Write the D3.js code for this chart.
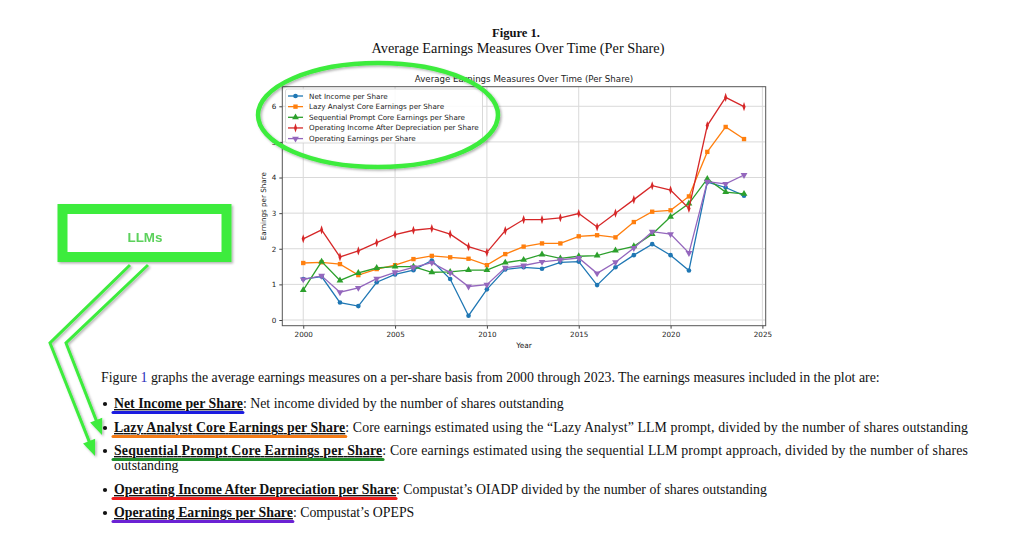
<!DOCTYPE html>
<html>
<head>
<meta charset="utf-8">
<script src="https://cdn.jsdelivr.net/npm/d3@7"></script>
<style>
  body { margin: 0; background: #fff; }
</style>
</head>
<body>
<svg id="page"></svg>
<script>
// chart data
const years = [2000, 2001, 2002, 2003, 2004, 2005, 2006, 2007, 2008, 2009, 2010, 2011, 2012,
               2013, 2014, 2015, 2016, 2017, 2018, 2019, 2020, 2021, 2022, 2023, 2024];
const netIncome = [1.15, 1.22, 0.49, 0.39, 1.06, 1.28, 1.40, 1.67, 1.15, 0.12, 0.86, 1.42, 1.48,
                   1.44, 1.62, 1.64, 0.98, 1.48, 1.82, 2.13, 1.82, 1.39, 3.87, 3.72, 3.49];
const lazyAnalyst = [1.60, 1.62, 1.57, 1.26, 1.43, 1.54, 1.71, 1.80, 1.76, 1.72, 1.54, 1.85, 2.06,
                     2.15, 2.15, 2.35, 2.38, 2.32, 2.75, 3.04, 3.08, 3.47, 4.72, 5.42, 5.08];
const sequential = [0.84, 1.64, 1.11, 1.32, 1.46, 1.50, 1.50, 1.34, 1.35, 1.40, 1.40, 1.61, 1.69,
                    1.84, 1.73, 1.79, 1.81, 1.95, 2.07, 2.41, 2.90, 3.27, 3.96, 3.59, 3.54];
const opIncome = [2.28, 2.53, 1.77, 1.94, 2.17, 2.40, 2.52, 2.57, 2.41, 2.06, 1.90, 2.51, 2.82,
                  2.82, 2.87, 2.99, 2.61, 3.00, 3.38, 3.77, 3.65, 3.13, 5.46, 6.25, 5.99];
const opEarnings = [1.14, 1.24, 0.78, 0.90, 1.16, 1.34, 1.48, 1.61, 1.33, 0.94, 0.99, 1.47, 1.53,
                    1.63, 1.69, 1.74, 1.31, 1.62, 2.02, 2.48, 2.41, 1.88, 3.88, 3.82, 4.07];
const seriesNames = ["Net Income per Share", "Lazy Analyst Core Earnings per Share",
                     "Sequential Prompt Core Earnings per Share",
                     "Operating Income After Depreciation per Share", "Operating Earnings per Share"];
const xTicks = [2000, 2005, 2010, 2015, 2020, 2025];
const yTicks = [0, 1, 2, 3, 4, 5, 6];

// document text
const figureLabel = "Figure 1.";
const figureTitle = "Average Earnings Measures Over Time (Per Share)";
const termNames = seriesNames;
const termDescriptions = [
  ": Net income divided by the number of shares outstanding",
  ": Core earnings estimated using the \u201cLazy Analyst\u201d LLM prompt, divided by the number of shares outstanding",
  ": Core earnings estimated using the sequential LLM prompt approach, divided by the number of shares",
  ": Compustat\u2019s OIADP divided by the number of shares outstanding",
  ": Compustat\u2019s OPEPS"
];
const termContinued = ["", "", "outstanding", "", ""];

const W = 1024, H = 537;
const svg = d3.select("#page").attr("width", W).attr("height", H);
const green = "#3dec3d";

const defs = svg.append("defs");
defs.append("filter").attr("id", "shadow")
  .attr("x", "-20%").attr("y", "-20%").attr("width", "140%").attr("height", "140%")
  .append("feDropShadow")
  .attr("dx", 1.5).attr("dy", 1.5).attr("stdDeviation", 1)
  .attr("flood-color", "#000").attr("flood-opacity", 0.3);

// scale a text's font-size so it spans the given width
function fitWidth(sel, target) {
  const w = sel.node().getComputedTextLength();
  const fs = parseFloat(sel.attr("font-size"));
  sel.attr("font-size", fs * target / w);
  return fs * target / w;
}

// ---------- heading ----------
const serif = "'Liberation Serif', 'Times New Roman', serif";
const head = svg.append("g").attr("font-family", serif).attr("fill", "#111").attr("text-anchor", "middle");
fitWidth(head.append("text").attr("x", 516).attr("y", 37).attr("font-size", 14)
  .attr("font-weight", "bold").text(figureLabel), 48);
fitWidth(head.append("text").attr("x", 518).attr("y", 53).attr("font-size", 14)
  .text(figureTitle), 293);

// ---------- chart ----------
const plot = { left: 282.3, right: 765.7, top: 86.7, bottom: 325.7 };
const x = d3.scaleLinear().domain([1998.86, 2025.18]).range([plot.left, plot.right]);
const y = d3.scaleLinear().domain([-0.16, 6.55]).range([plot.bottom, plot.top]);

const chart = svg.append("g").attr("font-family", "'DejaVu Sans', sans-serif");

// grid
chart.append("g").selectAll("line").data(xTicks).join("line")
  .attr("x1", d => x(d)).attr("x2", d => x(d))
  .attr("y1", plot.top).attr("y2", plot.bottom)
  .attr("stroke", "#d9d9d9").attr("stroke-width", 1);
chart.append("g").selectAll("line").data(yTicks).join("line")
  .attr("x1", plot.left).attr("x2", plot.right)
  .attr("y1", d => y(d)).attr("y2", d => y(d))
  .attr("stroke", "#d9d9d9").attr("stroke-width", 1);

// axes
const xAxis = chart.append("g").attr("transform", `translate(0,${plot.bottom})`)
  .call(d3.axisBottom(x).tickValues(xTicks).tickFormat(d3.format("d")).tickSize(3).tickPadding(3));
const yAxis = chart.append("g").attr("transform", `translate(${plot.left},0)`)
  .call(d3.axisLeft(y).tickValues(yTicks).tickFormat(d3.format("d")).tickSize(3).tickPadding(3));
[xAxis, yAxis].forEach(a => {
  a.select(".domain").remove();
  a.selectAll(".tick line").attr("stroke", "#444");
  a.selectAll(".tick text").attr("fill", "#222").attr("font-size", 7.2)
    .attr("font-family", "'DejaVu Sans', sans-serif");
});

chart.append("rect")
  .attr("x", plot.left).attr("y", plot.top)
  .attr("width", plot.right - plot.left).attr("height", plot.bottom - plot.top)
  .attr("fill", "none").attr("stroke", "#555").attr("stroke-width", 1);

const cx = (plot.left + plot.right) / 2;
fitWidth(chart.append("text").attr("x", cx).attr("y", 82).attr("text-anchor", "middle")
  .attr("font-size", 9).attr("fill", "#222").text(figureTitle), 219);
chart.append("text").attr("x", cx).attr("y", 348).attr("text-anchor", "middle")
  .attr("font-size", 7.4).attr("fill", "#222").text("Year");
fitWidth(chart.append("text")
  .attr("transform", `translate(266,${(plot.top + plot.bottom) / 2}) rotate(-90)`)
  .attr("text-anchor", "middle").attr("font-size", 7.4).attr("fill", "#222")
  .text("Earnings per Share"), 68);

// series
const marker = {
  circle: { type: d3.symbolCircle, size: 17, transform: "" },
  square: { type: d3.symbolSquare, size: 19, transform: "" },
  triUp: { type: d3.symbolTriangle, size: 20, transform: "" },
  diamond: { type: d3.symbolDiamond, size: 22, transform: " scale(0.62,1.05)" },
  triDown: { type: d3.symbolTriangle, size: 20, transform: " rotate(180)" }
};
const series = [
  { name: seriesNames[0], values: netIncome, color: "#1f77b4", m: marker.circle },
  { name: seriesNames[1], values: lazyAnalyst, color: "#ff7f0e", m: marker.square },
  { name: seriesNames[2], values: sequential, color: "#2ca02c", m: marker.triUp },
  { name: seriesNames[3], values: opIncome, color: "#d62728", m: marker.diamond },
  { name: seriesNames[4], values: opEarnings, color: "#9467bd", m: marker.triDown }
];

const line = d3.line().x((d, i) => x(years[i])).y(d => y(d));
series.forEach(s => {
  const g = chart.append("g");
  g.append("path").attr("d", line(s.values))
    .attr("fill", "none").attr("stroke", s.color).attr("stroke-width", 1.3);
  g.selectAll("path.mk").data(s.values).join("path").attr("class", "mk")
    .attr("d", d3.symbol().type(s.m.type).size(s.m.size))
    .attr("transform", (d, i) => `translate(${x(years[i])},${y(d)})${s.m.transform}`)
    .attr("fill", s.color);
});

// legend
const legend = chart.append("g");
legend.append("rect").attr("x", 285.5).attr("y", 89).attr("width", 197).attr("height", 54)
  .attr("rx", 2).attr("fill", "#fff").attr("fill-opacity", 0.85)
  .attr("stroke", "#cfcfcf").attr("stroke-width", 0.8);
const legendY = d3.scaleLinear().domain([0, 4]).range([96, 138.6]);
const legendTexts = [];
series.forEach((s, i) => {
  const ly = legendY(i);
  legend.append("line").attr("x1", 288).attr("x2", 303).attr("y1", ly).attr("y2", ly)
    .attr("stroke", s.color).attr("stroke-width", 1.3);
  legend.append("path").attr("d", d3.symbol().type(s.m.type).size(s.m.size))
    .attr("transform", `translate(295.5,${ly})${s.m.transform}`).attr("fill", s.color);
  legendTexts.push(legend.append("text").attr("x", 309).attr("y", ly).attr("dy", "0.35em")
    .attr("font-size", 7).attr("fill", "#222").text(s.name));
});
const legendFont = 7 * 170 / legendTexts[3].node().getComputedTextLength();
legendTexts.forEach(t => t.attr("font-size", legendFont));

// ---------- annotations ----------
const notes = svg.append("g").attr("filter", "url(#shadow)");
notes.append("ellipse").attr("cx", 378).attr("cy", 115).attr("rx", 120).attr("ry", 52)
  .attr("fill", "none").attr("stroke", green).attr("stroke-width", 4.5);

notes.append("rect").attr("x", 62.5).attr("y", 209).attr("width", 164).attr("height", 48)
  .attr("fill", "#fff").attr("stroke", green).attr("stroke-width", 10);
const llm = notes.append("text").attr("x", 145).attr("y", 241.5).attr("text-anchor", "middle")
  .attr("font-family", "'Liberation Sans', Arial, sans-serif").attr("font-weight", "bold")
  .attr("font-size", 12.5).attr("fill", "#5bd15b").text("LLMs");
fitWidth(llm, 35);

const arrows = [
  [[130, 265], [50, 343], [95, 456]],
  [[148, 265], [66, 343], [102, 435]]
];
arrows.forEach(pts => {
  const [p, q] = pts.slice(-2);
  const len = Math.hypot(q[0] - p[0], q[1] - p[1]);
  const ux = (q[0] - p[0]) / len, uy = (q[1] - p[1]) / len;
  const headL = 16, headW = 13;
  const shaft = pts.slice(0, -1).concat([[q[0] - ux * headL * 0.8, q[1] - uy * headL * 0.8]]);
  notes.append("path").attr("d", d3.line()(shaft))
    .attr("fill", "none").attr("stroke", green).attr("stroke-width", 3)
    .attr("stroke-linejoin", "miter");
  const bx = q[0] - ux * headL, by = q[1] - uy * headL;
  notes.append("path")
    .attr("d", d3.line()([[q[0], q[1]], [bx - uy * headW / 2, by + ux * headW / 2],
                          [bx + uy * headW / 2, by - ux * headW / 2]]) + "Z")
    .attr("fill", green);
});

// ---------- body text ----------
const body = svg.append("g").attr("font-family", serif).attr("fill", "#111");
const para = body.append("text").attr("x", 101).attr("y", 382).attr("font-size", 13.3);
para.append("tspan").text("Figure ");
para.append("tspan").attr("fill", "#2a2ab8").text("1");
para.append("tspan").text(" graphs the average earnings measures on a per-share basis from 2000 through 2023. The earnings measures included in the plot are:");
const bodyFont = fitWidth(para, 779);

const highlight = ["#1c1ce0", "#f47b16", "#1f8f2a", "#ee1d1d", "#6b22d4"];
const baselines = [408, 432, 455, 494, 517];
const rightMargin = 968;
termNames.forEach((term, i) => {
  const by = baselines[i];
  body.append("circle").attr("cx", 105).attr("cy", by - 4).attr("r", 2.1).attr("fill", "#111");
  const t = body.append("text").attr("x", 114).attr("y", by).attr("font-size", bodyFont);
  const bold = t.append("tspan").attr("font-weight", "bold")
    .style("text-decoration", "underline").text(term);
  t.append("tspan").text(termDescriptions[i]);
  let ratio = 1;
  const natural = t.node().getComputedTextLength();
  if (i === 1 || i === 2) {
    // full lines are justified to the right margin
    t.attr("textLength", rightMargin - 114).attr("lengthAdjust", "spacing");
    ratio = (rightMargin - 114) / natural;
  }
  const bw = bold.node().getComputedTextLength() * ratio;
  svg.append("line").attr("x1", 113).attr("x2", 114 + bw)
    .attr("y1", by + 4.5).attr("y2", by + 4.5)
    .attr("stroke", highlight[i]).attr("stroke-width", 3).attr("stroke-linecap", "round");
  if (termContinued[i]) {
    body.append("text").attr("x", 114).attr("y", by + 15).attr("font-size", bodyFont)
      .text(termContinued[i]);
  }
});
</script>
</body>
</html>
